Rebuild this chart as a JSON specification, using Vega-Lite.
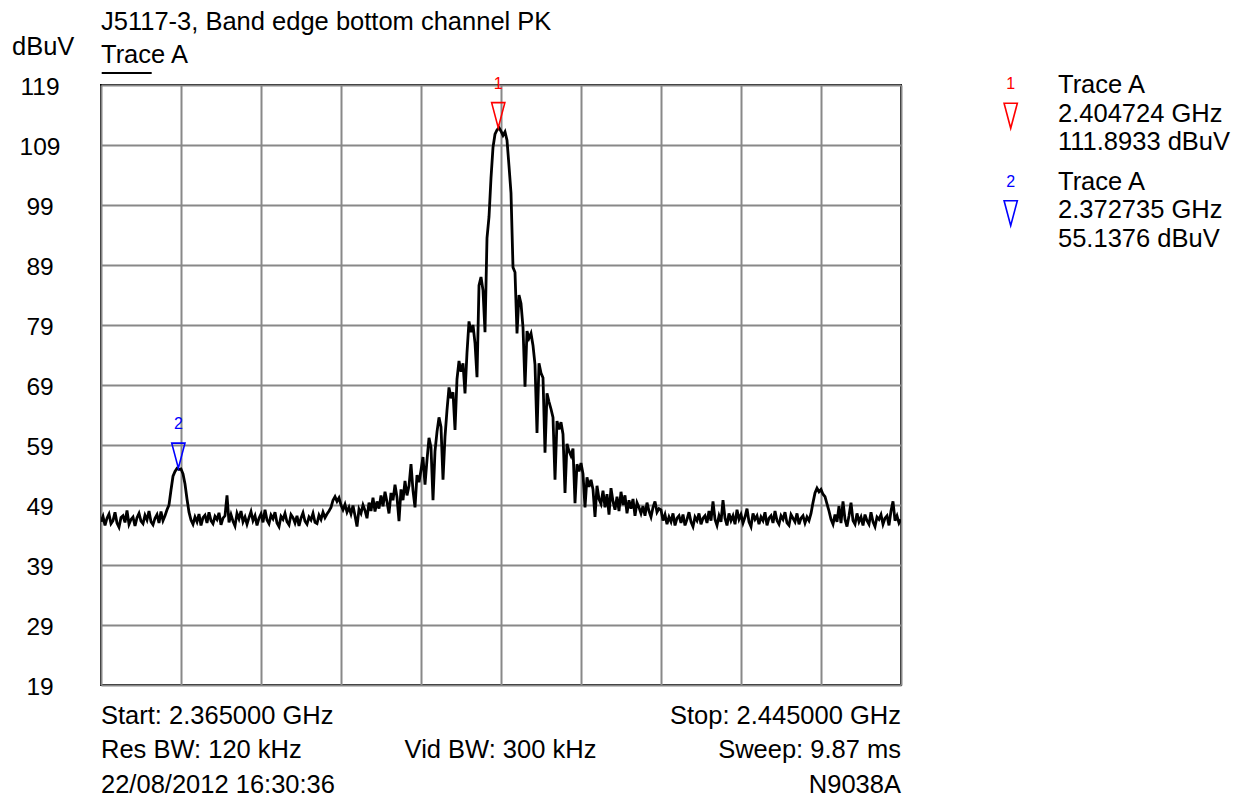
{
"$schema":"https://vega.github.io/schema/vega-lite/v6.json",
"width":800,"height":600,
"autosize":{"type":"none"},
"padding":{"left":101,"top":85,"right":346,"bottom":118},
"background":"white",
"config":{"font":"Liberation Sans","view":{"stroke":"black","strokeWidth":2}},
"datasets":{
"trace":[
{"MHz":2365.0,"dBuV":46.2},{"MHz":2365.2,"dBuV":47.1},{"MHz":2365.4,"dBuV":45.6},{"MHz":2365.6,"dBuV":46.8},{"MHz":2365.8,"dBuV":47.5},{"MHz":2366.0,"dBuV":45.9},{"MHz":2366.2,"dBuV":46.4},{"MHz":2366.4,"dBuV":47.8},{"MHz":2366.6,"dBuV":46.0},{"MHz":2366.8,"dBuV":45.3},
{"MHz":2367.0,"dBuV":46.9},{"MHz":2367.2,"dBuV":47.2},{"MHz":2367.4,"dBuV":46.1},{"MHz":2367.6,"dBuV":48.1},{"MHz":2367.8,"dBuV":45.8},{"MHz":2368.0,"dBuV":46.6},{"MHz":2368.2,"dBuV":47.0},{"MHz":2368.4,"dBuV":45.5},{"MHz":2368.6,"dBuV":46.9},{"MHz":2368.8,"dBuV":47.6},
{"MHz":2369.0,"dBuV":46.3},{"MHz":2369.2,"dBuV":45.9},{"MHz":2369.4,"dBuV":47.3},{"MHz":2369.6,"dBuV":46.5},{"MHz":2369.8,"dBuV":48.0},{"MHz":2370.0,"dBuV":46.2},{"MHz":2370.2,"dBuV":45.7},{"MHz":2370.4,"dBuV":46.8},{"MHz":2370.6,"dBuV":47.4},{"MHz":2370.8,"dBuV":46.0},
{"MHz":2371.0,"dBuV":47.9},{"MHz":2371.2,"dBuV":46.4},{"MHz":2371.4,"dBuV":47.2},{"MHz":2371.6,"dBuV":48.2},{"MHz":2371.8,"dBuV":49.0},{"MHz":2372.0,"dBuV":51.5},{"MHz":2372.2,"dBuV":53.8},{"MHz":2372.4,"dBuV":54.6},{"MHz":2372.6,"dBuV":55.1},{"MHz":2372.8,"dBuV":54.9},
{"MHz":2373.0,"dBuV":55.0},{"MHz":2373.2,"dBuV":54.2},{"MHz":2373.4,"dBuV":52.5},{"MHz":2373.6,"dBuV":50.0},{"MHz":2373.8,"dBuV":47.8},{"MHz":2374.0,"dBuV":46.5},{"MHz":2374.2,"dBuV":45.8},{"MHz":2374.4,"dBuV":47.0},{"MHz":2374.6,"dBuV":46.2},{"MHz":2374.8,"dBuV":47.5},
{"MHz":2375.0,"dBuV":45.6},{"MHz":2375.2,"dBuV":46.9},{"MHz":2375.4,"dBuV":47.3},{"MHz":2375.6,"dBuV":46.0},{"MHz":2375.8,"dBuV":47.8},{"MHz":2376.0,"dBuV":46.4},{"MHz":2376.2,"dBuV":45.9},{"MHz":2376.4,"dBuV":47.1},{"MHz":2376.6,"dBuV":46.6},{"MHz":2376.8,"dBuV":47.7},
{"MHz":2377.0,"dBuV":45.7},{"MHz":2377.2,"dBuV":46.8},{"MHz":2377.4,"dBuV":47.2},{"MHz":2377.6,"dBuV":50.6},{"MHz":2377.8,"dBuV":46.1},{"MHz":2378.0,"dBuV":47.4},{"MHz":2378.2,"dBuV":46.3},{"MHz":2378.4,"dBuV":45.5},{"MHz":2378.6,"dBuV":47.6},{"MHz":2378.8,"dBuV":46.7},
{"MHz":2379.0,"dBuV":48.0},{"MHz":2379.2,"dBuV":46.2},{"MHz":2379.4,"dBuV":47.0},{"MHz":2379.6,"dBuV":45.8},{"MHz":2379.8,"dBuV":46.9},{"MHz":2380.0,"dBuV":47.9},{"MHz":2380.2,"dBuV":46.4},{"MHz":2380.4,"dBuV":47.2},{"MHz":2380.6,"dBuV":45.6},{"MHz":2380.8,"dBuV":46.8},
{"MHz":2381.0,"dBuV":47.5},{"MHz":2381.2,"dBuV":46.1},{"MHz":2381.4,"dBuV":48.2},{"MHz":2381.6,"dBuV":46.5},{"MHz":2381.8,"dBuV":45.9},{"MHz":2382.0,"dBuV":47.3},{"MHz":2382.2,"dBuV":46.7},{"MHz":2382.4,"dBuV":47.8},{"MHz":2382.6,"dBuV":46.0},{"MHz":2382.8,"dBuV":45.4},
{"MHz":2383.0,"dBuV":47.1},{"MHz":2383.2,"dBuV":46.6},{"MHz":2383.4,"dBuV":47.6},{"MHz":2383.6,"dBuV":46.2},{"MHz":2383.8,"dBuV":45.7},{"MHz":2384.0,"dBuV":47.4},{"MHz":2384.2,"dBuV":46.9},{"MHz":2384.4,"dBuV":46.0},{"MHz":2384.6,"dBuV":47.2},{"MHz":2384.8,"dBuV":45.5},
{"MHz":2385.0,"dBuV":46.8},{"MHz":2385.2,"dBuV":47.7},{"MHz":2385.4,"dBuV":46.3},{"MHz":2385.6,"dBuV":45.8},{"MHz":2385.8,"dBuV":47.0},{"MHz":2386.0,"dBuV":46.5},{"MHz":2386.2,"dBuV":47.6},{"MHz":2386.4,"dBuV":46.1},{"MHz":2386.6,"dBuV":45.9},{"MHz":2386.8,"dBuV":47.3},
{"MHz":2387.0,"dBuV":46.6},{"MHz":2387.2,"dBuV":47.8},{"MHz":2387.4,"dBuV":46.9},{"MHz":2387.6,"dBuV":47.5},{"MHz":2387.8,"dBuV":48.0},{"MHz":2388.0,"dBuV":48.6},{"MHz":2388.2,"dBuV":49.8},{"MHz":2388.4,"dBuV":50.4},{"MHz":2388.6,"dBuV":49.6},{"MHz":2388.8,"dBuV":50.2},
{"MHz":2389.0,"dBuV":49.0},{"MHz":2389.2,"dBuV":48.2},{"MHz":2389.4,"dBuV":49.1},{"MHz":2389.6,"dBuV":47.8},{"MHz":2389.8,"dBuV":48.6},{"MHz":2390.0,"dBuV":47.5},{"MHz":2390.2,"dBuV":48.9},{"MHz":2390.4,"dBuV":47.2},{"MHz":2390.6,"dBuV":45.4},{"MHz":2390.8,"dBuV":48.3},
{"MHz":2391.0,"dBuV":47.6},{"MHz":2391.2,"dBuV":49.0},{"MHz":2391.4,"dBuV":48.1},{"MHz":2391.6,"dBuV":46.8},{"MHz":2391.8,"dBuV":49.4},{"MHz":2392.0,"dBuV":48.0},{"MHz":2392.2,"dBuV":50.2},{"MHz":2392.4,"dBuV":47.9},{"MHz":2392.6,"dBuV":49.6},{"MHz":2392.8,"dBuV":48.4},
{"MHz":2393.0,"dBuV":50.6},{"MHz":2393.2,"dBuV":48.8},{"MHz":2393.4,"dBuV":51.2},{"MHz":2393.6,"dBuV":49.5},{"MHz":2393.8,"dBuV":47.6},{"MHz":2394.0,"dBuV":51.0},{"MHz":2394.2,"dBuV":49.8},{"MHz":2394.4,"dBuV":52.4},{"MHz":2394.6,"dBuV":50.3},{"MHz":2394.8,"dBuV":46.3},
{"MHz":2395.0,"dBuV":51.6},{"MHz":2395.2,"dBuV":49.8},{"MHz":2395.4,"dBuV":53.0},{"MHz":2395.6,"dBuV":50.6},{"MHz":2395.8,"dBuV":52.2},{"MHz":2396.0,"dBuV":55.8},{"MHz":2396.2,"dBuV":51.4},{"MHz":2396.4,"dBuV":48.6},{"MHz":2396.6,"dBuV":54.0},{"MHz":2396.8,"dBuV":52.8},
{"MHz":2397.0,"dBuV":54.8},{"MHz":2397.2,"dBuV":57.0},{"MHz":2397.4,"dBuV":52.4},{"MHz":2397.6,"dBuV":56.5},{"MHz":2397.8,"dBuV":60.2},{"MHz":2398.0,"dBuV":58.6},{"MHz":2398.2,"dBuV":49.8},{"MHz":2398.4,"dBuV":58.0},{"MHz":2398.6,"dBuV":61.2},{"MHz":2398.8,"dBuV":63.6},
{"MHz":2399.0,"dBuV":62.0},{"MHz":2399.2,"dBuV":53.2},{"MHz":2399.4,"dBuV":60.4},{"MHz":2399.6,"dBuV":64.8},{"MHz":2399.8,"dBuV":68.6},{"MHz":2400.0,"dBuV":66.8},{"MHz":2400.2,"dBuV":67.8},{"MHz":2400.4,"dBuV":61.5},{"MHz":2400.6,"dBuV":70.0},{"MHz":2400.8,"dBuV":73.0},
{"MHz":2401.0,"dBuV":71.2},{"MHz":2401.2,"dBuV":72.6},{"MHz":2401.4,"dBuV":67.6},{"MHz":2401.6,"dBuV":74.4},{"MHz":2401.8,"dBuV":79.6},{"MHz":2402.0,"dBuV":77.8},{"MHz":2402.2,"dBuV":79.0},{"MHz":2402.4,"dBuV":76.0},{"MHz":2402.6,"dBuV":70.3},{"MHz":2402.8,"dBuV":85.6},
{"MHz":2403.0,"dBuV":87.0},{"MHz":2403.2,"dBuV":84.8},{"MHz":2403.4,"dBuV":77.8},{"MHz":2403.6,"dBuV":93.5},{"MHz":2403.8,"dBuV":97.0},{"MHz":2404.0,"dBuV":103.5},{"MHz":2404.2,"dBuV":108.6},{"MHz":2404.4,"dBuV":110.8},{"MHz":2404.6,"dBuV":111.5},{"MHz":2404.8,"dBuV":111.9},
{"MHz":2405.0,"dBuV":111.3},{"MHz":2405.2,"dBuV":110.6},{"MHz":2405.4,"dBuV":111.2},{"MHz":2405.6,"dBuV":109.8},{"MHz":2405.8,"dBuV":105.5},{"MHz":2406.0,"dBuV":101.0},{"MHz":2406.2,"dBuV":88.6},{"MHz":2406.4,"dBuV":87.8},{"MHz":2406.6,"dBuV":77.6},{"MHz":2406.8,"dBuV":84.0},
{"MHz":2407.0,"dBuV":82.6},{"MHz":2407.2,"dBuV":78.6},{"MHz":2407.4,"dBuV":68.7},{"MHz":2407.6,"dBuV":78.0},{"MHz":2407.8,"dBuV":76.8},{"MHz":2408.0,"dBuV":77.6},{"MHz":2408.2,"dBuV":75.6},{"MHz":2408.4,"dBuV":72.4},{"MHz":2408.6,"dBuV":61.0},{"MHz":2408.8,"dBuV":72.6},
{"MHz":2409.0,"dBuV":71.0},{"MHz":2409.2,"dBuV":70.2},{"MHz":2409.4,"dBuV":57.7},{"MHz":2409.6,"dBuV":67.6},{"MHz":2409.8,"dBuV":66.2},{"MHz":2410.0,"dBuV":65.0},{"MHz":2410.2,"dBuV":63.6},{"MHz":2410.4,"dBuV":53.2},{"MHz":2410.6,"dBuV":63.0},{"MHz":2410.8,"dBuV":61.6},
{"MHz":2411.0,"dBuV":62.8},{"MHz":2411.2,"dBuV":60.8},{"MHz":2411.4,"dBuV":51.0},{"MHz":2411.6,"dBuV":59.2},{"MHz":2411.8,"dBuV":58.0},{"MHz":2412.0,"dBuV":57.2},{"MHz":2412.2,"dBuV":58.4},{"MHz":2412.4,"dBuV":49.3},{"MHz":2412.6,"dBuV":55.8},{"MHz":2412.8,"dBuV":54.6},
{"MHz":2413.0,"dBuV":56.0},{"MHz":2413.2,"dBuV":54.2},{"MHz":2413.4,"dBuV":48.6},{"MHz":2413.6,"dBuV":53.6},{"MHz":2413.8,"dBuV":52.0},{"MHz":2414.0,"dBuV":53.2},{"MHz":2414.2,"dBuV":51.6},{"MHz":2414.4,"dBuV":47.0},{"MHz":2414.6,"dBuV":52.2},{"MHz":2414.8,"dBuV":50.0},
{"MHz":2415.0,"dBuV":49.2},{"MHz":2415.2,"dBuV":51.4},{"MHz":2415.4,"dBuV":48.6},{"MHz":2415.6,"dBuV":50.8},{"MHz":2415.8,"dBuV":47.4},{"MHz":2416.0,"dBuV":51.8},{"MHz":2416.2,"dBuV":49.6},{"MHz":2416.4,"dBuV":48.2},{"MHz":2416.6,"dBuV":50.4},{"MHz":2416.8,"dBuV":48.0},
{"MHz":2417.0,"dBuV":51.2},{"MHz":2417.2,"dBuV":49.0},{"MHz":2417.4,"dBuV":50.6},{"MHz":2417.6,"dBuV":47.6},{"MHz":2417.8,"dBuV":49.8},{"MHz":2418.0,"dBuV":48.4},{"MHz":2418.2,"dBuV":50.0},{"MHz":2418.4,"dBuV":47.2},{"MHz":2418.6,"dBuV":49.4},{"MHz":2418.8,"dBuV":48.6},
{"MHz":2419.0,"dBuV":47.6},{"MHz":2419.2,"dBuV":48.8},{"MHz":2419.4,"dBuV":47.2},{"MHz":2419.6,"dBuV":49.4},{"MHz":2419.8,"dBuV":48.0},{"MHz":2420.0,"dBuV":47.0},{"MHz":2420.2,"dBuV":48.6},{"MHz":2420.4,"dBuV":49.6},{"MHz":2420.6,"dBuV":47.8},{"MHz":2420.8,"dBuV":48.4},
{"MHz":2421.0,"dBuV":48.2},{"MHz":2421.2,"dBuV":46.4},{"MHz":2421.4,"dBuV":47.4},{"MHz":2421.6,"dBuV":45.8},{"MHz":2421.8,"dBuV":47.0},{"MHz":2422.0,"dBuV":46.2},{"MHz":2422.2,"dBuV":47.6},{"MHz":2422.4,"dBuV":45.6},{"MHz":2422.6,"dBuV":46.8},{"MHz":2422.8,"dBuV":47.2},
{"MHz":2423.0,"dBuV":46.0},{"MHz":2423.2,"dBuV":47.4},{"MHz":2423.4,"dBuV":45.6},{"MHz":2423.6,"dBuV":46.6},{"MHz":2423.8,"dBuV":47.8},{"MHz":2424.0,"dBuV":46.2},{"MHz":2424.2,"dBuV":45.4},{"MHz":2424.4,"dBuV":47.0},{"MHz":2424.6,"dBuV":46.4},{"MHz":2424.8,"dBuV":47.6},
{"MHz":2425.0,"dBuV":45.8},{"MHz":2425.2,"dBuV":46.8},{"MHz":2425.4,"dBuV":47.2},{"MHz":2425.6,"dBuV":46.0},{"MHz":2425.8,"dBuV":48.0},{"MHz":2426.0,"dBuV":46.4},{"MHz":2426.2,"dBuV":49.6},{"MHz":2426.4,"dBuV":46.6},{"MHz":2426.6,"dBuV":45.6},{"MHz":2426.8,"dBuV":47.2},
{"MHz":2427.0,"dBuV":46.2},{"MHz":2427.2,"dBuV":49.8},{"MHz":2427.4,"dBuV":46.8},{"MHz":2427.6,"dBuV":45.6},{"MHz":2427.8,"dBuV":47.6},{"MHz":2428.0,"dBuV":46.4},{"MHz":2428.2,"dBuV":47.2},{"MHz":2428.4,"dBuV":45.8},{"MHz":2428.6,"dBuV":48.2},{"MHz":2428.8,"dBuV":46.6},
{"MHz":2429.0,"dBuV":47.4},{"MHz":2429.2,"dBuV":46.0},{"MHz":2429.4,"dBuV":47.0},{"MHz":2429.6,"dBuV":48.4},{"MHz":2429.8,"dBuV":46.2},{"MHz":2430.0,"dBuV":45.4},{"MHz":2430.2,"dBuV":47.6},{"MHz":2430.4,"dBuV":46.6},{"MHz":2430.6,"dBuV":47.2},{"MHz":2430.8,"dBuV":45.8},
{"MHz":2431.0,"dBuV":47.0},{"MHz":2431.2,"dBuV":46.4},{"MHz":2431.4,"dBuV":47.8},{"MHz":2431.6,"dBuV":45.6},{"MHz":2431.8,"dBuV":46.8},{"MHz":2432.0,"dBuV":47.2},{"MHz":2432.2,"dBuV":46.0},{"MHz":2432.4,"dBuV":48.0},{"MHz":2432.6,"dBuV":46.4},{"MHz":2432.8,"dBuV":45.8},
{"MHz":2433.0,"dBuV":47.2},{"MHz":2433.2,"dBuV":46.6},{"MHz":2433.4,"dBuV":47.8},{"MHz":2433.6,"dBuV":46.0},{"MHz":2433.8,"dBuV":45.6},{"MHz":2434.0,"dBuV":47.4},{"MHz":2434.2,"dBuV":46.8},{"MHz":2434.4,"dBuV":46.2},{"MHz":2434.6,"dBuV":47.6},{"MHz":2434.8,"dBuV":45.8},
{"MHz":2435.0,"dBuV":46.8},{"MHz":2435.2,"dBuV":47.2},{"MHz":2435.4,"dBuV":46.0},{"MHz":2435.6,"dBuV":47.0},{"MHz":2435.8,"dBuV":46.4},{"MHz":2436.0,"dBuV":47.6},{"MHz":2436.2,"dBuV":49.4},{"MHz":2436.4,"dBuV":51.0},{"MHz":2436.6,"dBuV":51.8},{"MHz":2436.8,"dBuV":51.2},
{"MHz":2437.0,"dBuV":51.6},{"MHz":2437.2,"dBuV":50.8},{"MHz":2437.4,"dBuV":50.4},{"MHz":2437.6,"dBuV":49.2},{"MHz":2437.8,"dBuV":48.0},{"MHz":2438.0,"dBuV":46.6},{"MHz":2438.2,"dBuV":45.8},{"MHz":2438.4,"dBuV":47.4},{"MHz":2438.6,"dBuV":46.2},{"MHz":2438.8,"dBuV":48.8},
{"MHz":2439.0,"dBuV":46.0},{"MHz":2439.2,"dBuV":49.6},{"MHz":2439.4,"dBuV":46.6},{"MHz":2439.6,"dBuV":45.4},{"MHz":2439.8,"dBuV":47.2},{"MHz":2440.0,"dBuV":49.4},{"MHz":2440.2,"dBuV":46.4},{"MHz":2440.4,"dBuV":45.8},{"MHz":2440.6,"dBuV":47.6},{"MHz":2440.8,"dBuV":46.2},
{"MHz":2441.0,"dBuV":47.0},{"MHz":2441.2,"dBuV":45.6},{"MHz":2441.4,"dBuV":47.4},{"MHz":2441.6,"dBuV":46.4},{"MHz":2441.8,"dBuV":45.8},{"MHz":2442.0,"dBuV":47.8},{"MHz":2442.2,"dBuV":46.2},{"MHz":2442.4,"dBuV":45.4},{"MHz":2442.6,"dBuV":47.0},{"MHz":2442.8,"dBuV":46.6},
{"MHz":2443.0,"dBuV":47.4},{"MHz":2443.2,"dBuV":45.8},{"MHz":2443.4,"dBuV":46.8},{"MHz":2443.6,"dBuV":47.2},{"MHz":2443.8,"dBuV":45.6},{"MHz":2444.0,"dBuV":48.0},{"MHz":2444.2,"dBuV":49.6},{"MHz":2444.4,"dBuV":46.4},{"MHz":2444.6,"dBuV":47.2},{"MHz":2444.8,"dBuV":46.0},
{"MHz":2445.0,"dBuV":46.6}
],
"textLeft":[
{"MHz":2365,"dBuV":128.17,"label":"J5117-3, Band edge bottom channel PK"},
{"MHz":2365,"dBuV":122.62,"label":"Trace A"},
{"MHz":2356.1,"dBuV":124,"label":"dBuV"},
{"MHz":2365,"dBuV":12.58,"label":"Start: 2.365000 GHz"},
{"MHz":2365,"dBuV":6.83,"label":"Res BW: 120 kHz"},
{"MHz":2365,"dBuV":1.0,"label":"22/08/2012 16:30:36"},
{"MHz":2460.7,"dBuV":117.62,"label":"Trace A"},
{"MHz":2460.7,"dBuV":112.9,"label":"2.404724 GHz"},
{"MHz":2460.7,"dBuV":108.17,"label":"111.8933 dBuV"},
{"MHz":2460.7,"dBuV":101.5,"label":"Trace A"},
{"MHz":2460.7,"dBuV":96.78,"label":"2.372735 GHz"},
{"MHz":2460.7,"dBuV":92.05,"label":"55.1376 dBuV"}
],
"textRight":[
{"MHz":2445,"dBuV":12.58,"label":"Stop: 2.445000 GHz"},
{"MHz":2445,"dBuV":6.83,"label":"Sweep: 9.87 ms"},
{"MHz":2445,"dBuV":1.0,"label":"N9038A"}
],
"textCenter":[
{"MHz":2404.95,"dBuV":6.83,"label":"Vid BW: 300 kHz"}
],
"underline":[
{"MHz":2365.07,"MHz2":2370.07,"dBuV":121}
],
"markers":[
{"id":"1","MHz":2404.724,"dBuV":111.8933},
{"id":"2","MHz":2372.735,"dBuV":55.1376},
{"id":"1","MHz":2455.97,"dBuV":111.78},
{"id":"2","MHz":2455.97,"dBuV":95.55}
]
},
"layer":[
{"data":{"name":"trace"},
 "mark":{"type":"line","color":"black","strokeWidth":2.8,"clip":true},
 "encoding":{
  "x":{"field":"MHz","type":"quantitative","scale":{"domain":[2365,2445],"nice":false,"zero":false},
   "axis":{"values":[2365,2373,2381,2389,2397,2405,2413,2421,2429,2437,2445],"grid":true,"gridColor":"#888888","gridWidth":2,"gridOpacity":1,"labels":false,"ticks":false,"domain":false,"title":null}},
  "y":{"field":"dBuV","type":"quantitative","scale":{"domain":[19,119],"nice":false,"zero":false},
   "axis":{"values":[19,29,39,49,59,69,79,89,99,109,119],"grid":true,"gridColor":"#888888","gridWidth":2,"gridOpacity":1,"ticks":false,"tickSize":0,"domain":false,"title":null,"labelPadding":61.5,"labelAlign":"center","labelBaseline":"middle","labelOffset":2,"labelFontSize":24.5,"labelColor":"black","labelFont":"Liberation Sans"}}
 }},
{"data":{"name":"underline"},
 "mark":{"type":"rule","color":"black","strokeWidth":2},
 "encoding":{"x":{"field":"MHz","type":"quantitative"},"x2":{"field":"MHz2"},"y":{"field":"dBuV","type":"quantitative"}}},
{"data":{"name":"textLeft"},
 "mark":{"type":"text","align":"left","baseline":"alphabetic","fontSize":25.5,"color":"black","font":"Liberation Sans"},
 "encoding":{"x":{"field":"MHz","type":"quantitative"},"y":{"field":"dBuV","type":"quantitative"},"text":{"field":"label"}}},
{"data":{"name":"textRight"},
 "mark":{"type":"text","align":"right","baseline":"alphabetic","fontSize":25.5,"color":"black","font":"Liberation Sans"},
 "encoding":{"x":{"field":"MHz","type":"quantitative"},"y":{"field":"dBuV","type":"quantitative"},"text":{"field":"label"}}},
{"data":{"name":"textCenter"},
 "mark":{"type":"text","align":"center","baseline":"alphabetic","fontSize":25.5,"color":"black","font":"Liberation Sans"},
 "encoding":{"x":{"field":"MHz","type":"quantitative"},"y":{"field":"dBuV","type":"quantitative"},"text":{"field":"label"}}},
{"data":{"name":"markers"},
 "mark":{"type":"point","shape":"M-0.53,-1L0.53,-1L0,1Z","size":625,"filled":false,"strokeWidth":1.6,"yOffset":-12.5,"opacity":1},
 "encoding":{"x":{"field":"MHz","type":"quantitative"},"y":{"field":"dBuV","type":"quantitative"},
  "color":{"field":"id","type":"nominal","scale":{"domain":["1","2"],"range":["#ff0000","#0000ff"]},"legend":null}}},
{"data":{"name":"markers"},
 "mark":{"type":"text","align":"center","baseline":"alphabetic","fontSize":16,"dy":-39,"font":"Liberation Sans"},
 "encoding":{"x":{"field":"MHz","type":"quantitative"},"y":{"field":"dBuV","type":"quantitative"},"text":{"field":"id"},
  "color":{"field":"id","type":"nominal","scale":{"domain":["1","2"],"range":["#ff0000","#0000ff"]},"legend":null}}}
]
}
